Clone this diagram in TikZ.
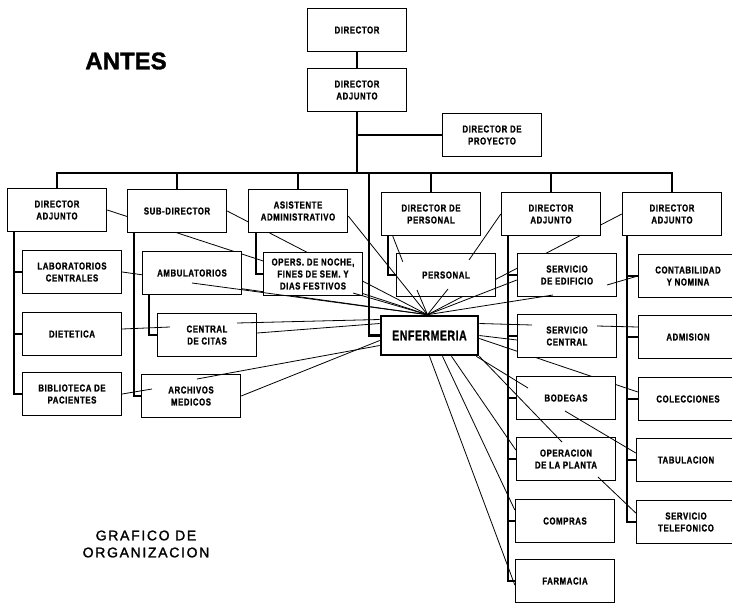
\documentclass[tikz,border=0pt]{standalone}
\usepackage{fontspec}
\usepackage{tikz}
\newfontfamily\boxfont{Liberation Sans}[FakeStretch=0.78,LetterSpace=6,FakeBold=1.2]
\newfontfamily\enffont{Liberation Sans}[FakeStretch=0.75,LetterSpace=4,FakeBold=1.2]
\newfontfamily\antesfont{Liberation Sans}[FakeBold=1.5]
\newfontfamily\titfont{Liberation Sans}[LetterSpace=12,FakeBold=1.5]
\pgfdeclarelayer{background}
\pgfsetlayers{background,main}

\begin{document}
\begin{tikzpicture}[x=1pt, y=-1pt,
    box/.style={draw, line width=1.4pt, fill=white, minimum width=99pt, minimum height=43pt,
      inner sep=1pt, align=center, font=\boxfont\bfseries\fontsize{10}{12}\selectfont},
    spine/.style={line width=2.4pt},
    link/.style={line width=0.8pt}]
    \useasboundingbox (0,0) rectangle (732,605);

    \node[font=\antesfont\bfseries\fontsize{24}{24}\selectfont] (antes) at (126,61) {ANTES};
    \node[font=\titfont\fontsize{14}{17}\selectfont, align=center] (grafico) at (146,544) {GRAFICO DE\\ORGANIZACION};

    \node[box] (director) at (357,30) {DIRECTOR};
    \node[box] (dirAdj) at (357,90) {DIRECTOR\\ADJUNTO};
    \node[box] (dirProy) at (492,135) {DIRECTOR DE\\PROYECTO};

    \node[box] (daIzq) at (57,210) {DIRECTOR\\ADJUNTO};
    \node[box] (subDir) at (177,211) {SUB-DIRECTOR};
    \node[box] (asist) at (298,211) {ASISTENTE\\ADMINISTRATIVO};
    \node[box] (dirPers) at (431,214) {DIRECTOR DE\\PERSONAL};
    \node[box] (daCentro) at (551,214) {DIRECTOR\\ADJUNTO};
    \node[box] (daDer) at (672,214) {DIRECTOR\\ADJUNTO};

    \node[box] (lab) at (72,272) {LABORATORIOS\\CENTRALES};
    \node[box] (dietetica) at (72,334) {DIETETICA};
    \node[box] (biblio) at (72,394) {BIBLIOTECA DE\\PACIENTES};
    \node[box] (ambul) at (192,273) {AMBULATORIOS};
    \node[box] (citas) at (207,335) {CENTRAL\\DE CITAS};
    \node[box] (archivos) at (191,396) {ARCHIVOS\\MEDICOS};
    \node[box] (opers) at (313,274) {OPERS. DE NOCHE,\\FINES DE SEM. Y\\DIAS FESTIVOS};
    \node[box] (personal) at (446,275) {PERSONAL};
    \node[box, line width=2.6pt, minimum width=97pt, minimum height=39pt,
      font=\enffont\bfseries\fontsize{14}{16}\selectfont] (enf) at (429.5,335.5) {ENFERMERIA};

    \node[box] (servEdif) at (567,275) {SERVICIO\\DE EDIFICIO};
    \node[box] (servCentral) at (567,336) {SERVICIO\\CENTRAL};
    \node[box] (bodegas) at (566,398) {BODEGAS};
    \node[box] (operacion) at (566,459) {OPERACION\\DE LA PLANTA};
    \node[box] (compras) at (565,521) {COMPRAS};
    \node[box] (farmacia) at (565,581) {FARMACIA};
    \node[box] (contab) at (688,276) {CONTABILIDAD\\Y NOMINA};
    \node[box] (admision) at (688,337) {ADMISION};
    \node[box] (colecciones) at (688,399) {COLECCIONES};
    \node[box] (tabulacion) at (686,460) {TABULACION};
    \node[box] (servTel) at (686,522) {SERVICIO\\TELEFONICO};

    \coordinate (bus) at (357,173);
    \coordinate (bajada) at (369,173);
    \coordinate (foco) at ([xshift=-2pt]enf.north);

    \draw[spine] (director) -- (dirAdj);
    \draw[spine] (dirAdj) -- (bus);
    \draw[spine] (bus |- dirProy) -- (dirProy);
    \draw[spine] (daIzq) |- (bus) -| (daDer);
    \foreach \h in {subDir,asist,dirPers,daCentro}
        \draw[spine] (\h) -- (\h |- bus);
    \draw[spine] (bajada) |- (enf.west);

    \foreach \h in {lab,dietetica,biblio}
        \draw[spine] ([xshift=7pt]daIzq.south west) |- (\h.west);
    \draw[spine] ([xshift=7pt]subDir.south west) |- (archivos.west);
    \draw[spine] ([xshift=7pt]ambul.south west) |- (citas.west);
    \draw[spine] ([xshift=8pt]asist.south west) |- (opers.west);
    \draw[spine] ([xshift=7pt]dirPers.south west) |- (personal.west);
    \foreach \h in {servEdif,servCentral,bodegas,operacion,compras,farmacia}
        \draw[spine] ([xshift=7pt]daCentro.south west) |- (\h.west);
    \foreach \h in {contab,admision,colecciones,tabulacion,servTel}
        \draw[spine] ([xshift=5pt]daDer.south west) |- (\h.west);

    \begin{pgfonlayer}{background}
        \fill[white] (0,0) rectangle (732,605);
        \draw[link] (daIzq.east) -- (foco);
        \draw[link] (subDir.east) -- (foco);
        \draw[link] (lab.east) -- (foco);
        \draw[link] (daDer.west) -- (foco);
        \draw[link] ([yshift=-3pt]enf.east) -- ([yshift=7pt]colecciones.west);
    \end{pgfonlayer}

    \draw[link] ([yshift=-5pt]asist.east) -- (foco);
    \draw[link] ([yshift=-10pt]ambul.center) -- (foco);
    \draw[link] ([shift={(40pt,-19pt)}]opers.center) -- (foco);
    \draw[link] ([xshift=12pt]dirPers.south west) -- ([shift={(7pt,-9pt)}]personal.north west);
    \draw[link] ([shift={(-29pt,-15pt)}]personal.center) -- (foco);
    \draw[link] ([shift={(2pt,-14pt)}]personal.center) -- (foco);
    \draw[link] (daCentro.west) -- ([shift={(23pt,15pt)}]personal.center);
    \draw[link] ([yshift=-5pt]servEdif.west) -- (foco);
    \draw[link] ([shift={(-14pt,-20pt)}]servEdif.center) -- (foco);
    \draw[link] (contab.west) -- ([shift={(40pt,-10pt)}]servEdif.center);
    \draw[link] ([yshift=12pt]enf.east) -- ([shift={(-35pt,11pt)}]servCentral.center);
    \draw[link] ([yshift=10pt]admision.west) -- ([shift={(30pt,10pt)}]servCentral.center);
    \draw[link] (enf.east) -- ([yshift=-4pt]servCentral.west);
    \draw[link] ([xshift=-3pt]enf.south east) -- ([shift={(-38pt,10pt)}]bodegas.center);
    \draw[link] (enf.south east) -- ([shift={(-4pt,17pt)}]operacion.center);
    \draw[link] ([xshift=22pt]enf.south) -- ([yshift=9pt]operacion.west);
    \draw[link] ([xshift=13pt]enf.south) -- ([yshift=11pt]compras.west);
    \draw[link] (enf.south) -- ([yshift=-4pt]farmacia.west);
    \draw[link] ([shift={(-1pt,-13pt)}]bodegas.center) -- ([yshift=7pt]tabulacion.west);
    \draw[link] ([shift={(32pt,-18pt)}]operacion.center) -- ([yshift=9pt]servTel.west);
    \draw[link] ([shift={(30pt,12pt)}]citas.center) -- ([yshift=16pt]enf.west);
    \draw[link] ([yshift=2pt]citas.east) -- ([yshift=12pt]enf.west);
    \draw[link] ([yshift=5pt]dietetica.east) -- ([shift={(-37pt,8pt)}]citas.center);
    \draw[link] ([shift={(6pt,17pt)}]archivos.center) -- ([yshift=-10pt]enf.west);
    \draw[link] (archivos.east) -- ([yshift=-5pt]enf.west);
    \draw[link] (biblio.east) -- ([shift={(-39pt,7pt)}]archivos.center);
\end{tikzpicture}
\end{document}
